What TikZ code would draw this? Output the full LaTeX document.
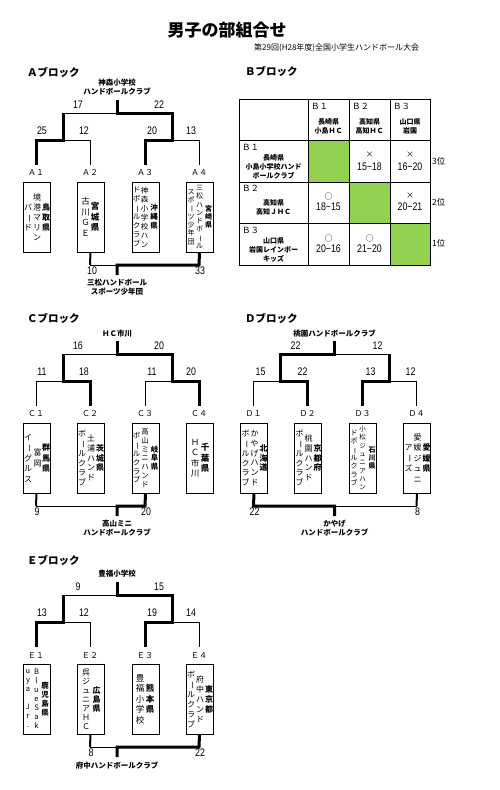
\documentclass[tikz,border=0pt]{standalone}
\usepackage{fontspec}
\setmainfont{Noto Sans CJK JP}
\newfontfamily\numfont[FakeStretch=0.8]{Liberation Sans}
\usetikzlibrary{calc}
\newcommand\fs[1]{\fontsize{#1}{#1}\selectfont}
\ExplSyntaxOn
\NewDocumentCommand\vstack{O{9pt}m}{
  \vbox{
    \baselineskip=#1\relax
    \lineskiplimit=-\maxdimen
    \lineskip=0pt
    \tl_map_inline:nn {#2}{
      \hbox_to_wd:nn {1.1em}{\hss \str_if_eq:nnTF{##1}{ー}{\rotatebox[origin=c]{-90}{ー}}{##1}\hss}
    }
  }
}
\ExplSyntaxOff
% box, dx, pitch, size, text
\newcommand\tcol[5]{\node[vcol,font=\fs{#4}] at ([xshift=#2]#1.center) {\vstack[#3]{#5}};}
\newcommand\tpcol[5]{\node[vcol,font=\fs{#4}\bfseries] at ([xshift=#2]#1.center) {\vstack[#3]{#5}};}
\definecolor{cellgreen}{HTML}{92D050}
\tikzset{
 lnthin/.style={line width=0.8pt},
 lnthick/.style={line width=3pt},
 lnmid/.style={line width=2pt},
 tbox/.style={draw, line width=0.8pt, minimum width=27, minimum height=70, inner sep=0},
 score/.style={font=\numfont\fs{11}, inner sep=0},
 tlab/.style={font=\fs{8}, inner sep=0},
 winner/.style={font=\fontsize{7.5}{9}\selectfont\bfseries, align=center, inner sep=0},
 btitle/.style={font=\fs{10.5}\bfseries, anchor=west, inner sep=0},
 vcol/.style={inner sep=0},
 cellsmall/.style={font=\fs{7}\bfseries, inner sep=0},
 cellid/.style={font=\fs{8.5}, anchor=west, inner sep=0},
 res/.style={font=\numfont\fs{11}, inner sep=0},
 resmark/.style={font=\fs{8}, inner sep=0},
 rank/.style={font=\fs{8.5}, anchor=west, inner sep=0},
 tgrid/.style={line width=0.9pt},
}
\begin{document}
\begin{tikzpicture}[x=1pt,y=-1pt]
\useasboundingbox (0,0) rectangle (500,790);

% ---------- title ----------
\node[font=\fs{17}\bfseries, inner sep=0] (title) at (227,30) {男子の部組合せ};
\node[font=\fs{8}, anchor=west, inner sep=0] (subtitle) at (254,48) {第29回(H28年度)全国小学生ハンドボール大会};

% ---------- A block ----------
\node[btitle] (Atitle) at (27,72) {Ａブロック};
\node[winner] (Awin) at (117,87.5) {神森小学校\\ハンドボールクラブ};
\draw[lnthin] (63,113) -- (117,113);
\draw[lnthick] (117,100) -- (117,113) -| (172,140) -- (145,140) -- (145,165);
\draw[lnthick] (63,113) -- (63,140) -- (36,140) -- (36,165);
\draw[lnthin] (63,140) -- (90,140) -- (90,165);
\draw[lnthin] (172,140) -- (199,140) -- (199,165);
\node[score] at (78,105) {17};
\node[score] at (159,105) {22};
\node[score] at (42,131) {25};
\node[score] at (84,131) {12};
\node[score] at (152,131) {20};
\node[score] at (191,131) {13};
\node[tlab] (A1) at (36,173) {Ａ１};
\node[tlab] (A2) at (90,173) {Ａ２};
\node[tlab] (A3) at (145,173) {Ａ３};
\node[tlab] (A4) at (199,173) {Ａ４};
\node[tbox] (A1b) at (36.5,217) {};
\node[tbox] (A2b) at (90.5,217) {};
\node[tbox] (A3b) at (145.5,217) {};
\node[tbox] (A4b) at (199.5,217) {};
\tpcol{A1b}{9.5}{10pt}{8}{鳥取県}
\tcol{A1b}{0.5}{10pt}{8}{境港マリン}
\tcol{A1b}{-8.5}{10pt}{8}{バード}
\tpcol{A2b}{4.5}{10.5pt}{8.5}{宮城県}
\tcol{A2b}{-5}{10.5pt}{8.5}{古川ＧＥ}
\tpcol{A3b}{8.5}{9pt}{7.5}{沖縄県}
\tcol{A3b}{-1}{9pt}{7.5}{神森小学校ハン}
\tcol{A3b}{-9}{9pt}{7.5}{ドボールクラブ}
\tpcol{A4b}{9}{8.3pt}{7}{宮崎県}
\tcol{A4b}{0}{8.3pt}{7}{三松ハンドボール}
\tcol{A4b}{-8.5}{8.3pt}{7}{スポーツ少年団}
\draw[lnmid] (A2b.south) -- (90,265);
\draw[lnthin] (90,265) -- (117,265);
\draw[lnthick] (A4b.south) -- (199,265) -- (117,265) -- (117,275);
\node[score] at (92,271) {10};
\node[score] at (200,271) {33};
\node[winner] (Abot) at (117,287.5) {三松ハンドボール\\スポーツ少年団};

% ---------- B block ----------
\node[btitle] (Btitle) at (245,71) {Ｂブロック};
\fill[cellgreen] (308,140) rectangle (349,182);
\fill[cellgreen] (349,182) rectangle (390,223);
\fill[cellgreen] (390,223) rectangle (430,265);
\draw[tgrid] (239,99) rectangle (430,265);
\draw[tgrid] (308,99) -- (308,265) (349,99) -- (349,265) (390,99) -- (390,265);
\draw[tgrid] (239,140) -- (430,140) (239,182) -- (430,182) (239,223) -- (430,223);
\node[cellid] at (311,106) {Ｂ１};
\node[cellsmall] at (328.5,122) {長崎県};
\node[cellsmall] at (328.5,131) {小島ＨＣ};
\node[cellid] at (352,106) {Ｂ２};
\node[cellsmall] at (369.5,122) {高知県};
\node[cellsmall] at (369.5,131) {高知ＨＣ};
\node[cellid] at (393,106) {Ｂ３};
\node[cellsmall] at (410,122) {山口県};
\node[cellsmall] at (410,131) {岩国};
\node[cellid] at (242,147) {Ｂ１};
\node[cellsmall] at (273.5,158) {長崎県};
\node[cellsmall] at (273.5,167) {小島小学校ハンド};
\node[cellsmall] at (273.5,176) {ボールクラブ};
\node[cellid] at (242,188) {Ｂ２};
\node[cellsmall] at (273.5,203) {高知県};
\node[cellsmall] at (273.5,212) {高知ＪＨＣ};
\node[cellid] at (242,230) {Ｂ３};
\node[cellsmall] at (273.5,241) {山口県};
\node[cellsmall] at (273.5,250) {岩国レインボー};
\node[cellsmall] at (273.5,259) {キッズ};
\node[resmark] at (369.5,155) {×};
\node[res] at (369.5,167) {15−18};
\node[resmark] at (410,155) {×};
\node[res] at (410,167) {16−20};
\node[resmark] at (328.5,196) {○};
\node[res] at (328.5,207) {18−15};
\node[resmark] at (410,196) {×};
\node[res] at (410,207) {20−21};
\node[resmark] at (328.5,238) {○};
\node[res] at (328.5,249) {20−16};
\node[resmark] at (369.5,238) {○};
\node[res] at (369.5,249) {21−20};
\node[rank] at (432,161) {3位};
\node[rank] at (432,202) {2位};
\node[rank] at (432,243) {1位};

% ---------- C block ----------
\node[btitle] (Ctitle) at (27,318) {Ｃブロック};
\begin{scope}[shift={(0,241)}]
\node[winner] (Cwin) at (117,93) {ＨＣ市川};
\draw[lnthin] (63,113) -- (117,113);
\draw[lnthick] (117,100) -- (117,113) -| (172,140) -- (199,140) -- (199,165);
\draw[lnthick] (63,113) -- (63,140) -- (90,140) -- (90,165);
\draw[lnthin] (63,140) -- (36,140) -- (36,165);
\draw[lnthin] (172,140) -- (145,140) -- (145,165);
\node[score] at (78,105) {16};
\node[score] at (159,105) {20};
\node[score] at (42,131) {11};
\node[score] at (84,131) {18};
\node[score] at (152,131) {11};
\node[score] at (191,131) {20};
\node[tlab] (C1) at (36,173) {Ｃ１};
\node[tlab] (C2) at (90,173) {Ｃ２};
\node[tlab] (C3) at (145,173) {Ｃ３};
\node[tlab] (C4) at (199,173) {Ｃ４};
\node[tbox] (C1b) at (36.5,217) {};
\node[tbox] (C2b) at (90.5,217) {};
\node[tbox] (C3b) at (145.5,217) {};
\node[tbox] (C4b) at (199.5,217) {};
\draw[lnmid] (C1b.south) -- (36,265);
\draw[lnthin] (36,265) -- (117,265);
\draw[lnthick] (C3b.south) -- (145,265) -- (117,265) -- (117,275);
\node[score] at (37,271) {9};
\node[score] at (146,271) {20};
\node[winner] (Cbot) at (117,287.5) {高山ミニ\\ハンドボールクラブ};
\end{scope}
\tpcol{C1b}{9.5}{10.5pt}{8}{群馬県}
\tcol{C1b}{1}{10.5pt}{8}{富岡}
\tcol{C1b}{-8.5}{10.5pt}{8}{イーグルス}
\tpcol{C2b}{9.5}{9.8pt}{8}{茨城県}
\tcol{C2b}{0.5}{9.8pt}{8}{土浦ハンド}
\tcol{C2b}{-8.5}{9.8pt}{8}{ボールクラブ}
\tpcol{C3b}{9}{8.8pt}{7.5}{岐阜県}
\tcol{C3b}{-0.5}{8.8pt}{7.5}{高山ミニハンド}
\tcol{C3b}{-9}{8.8pt}{7.5}{ボールクラブ}
\tpcol{C4b}{5.5}{10.5pt}{8.5}{千葉県}
\tcol{C4b}{-4.5}{10.5pt}{8.5}{ＨＣ市川}

% ---------- D block ----------
\node[btitle] (Dtitle) at (245,318) {Ｄブロック};
\begin{scope}[shift={(217.5,241)}]
\node[winner] (Dwin) at (117,93) {桃園ハンドボールクラブ};
\draw[lnthin] (117,113) -- (172,113);
\draw[lnthick] (117,100) -- (117,113) -| (63,140) -- (90,140) -- (90,165);
\draw[lnthick] (172,113) -- (172,140) -- (145,140) -- (145,165);
\draw[lnthin] (63,140) -- (36,140) -- (36,165);
\draw[lnthin] (172,140) -- (199,140) -- (199,165);
\node[score] at (78,105) {22};
\node[score] at (160,105) {12};
\node[score] at (43,131) {15};
\node[score] at (85,131) {22};
\node[score] at (153,131) {13};
\node[score] at (193,131) {12};
\node[tlab] (D1) at (36,173) {Ｄ１};
\node[tlab] (D2) at (90,173) {Ｄ２};
\node[tlab] (D3) at (145,173) {Ｄ３};
\node[tlab] (D4) at (199,173) {Ｄ４};
\node[tbox] (D1b) at (36.5,217) {};
\node[tbox] (D2b) at (90.5,217) {};
\node[tbox] (D3b) at (145.5,217) {};
\node[tbox] (D4b) at (199.5,217) {};
\draw[lnmid] (D4b.south) -- (199,265);
\draw[lnthin] (199,265) -- (117,265);
\draw[lnthick] (D1b.south) -- (36,265) -- (117,265) -- (117,275);
\node[score] at (37,271) {22};
\node[score] at (200,271) {8};
\node[winner] (Dbot) at (117,287.5) {かやげ\\ハンドボールクラブ};
\end{scope}
\tpcol{D1b}{9.5}{9.8pt}{8}{北海道}
\tcol{D1b}{0.5}{9.8pt}{8}{かやげハンド}
\tcol{D1b}{-8.5}{9.8pt}{8}{ボールクラブ}
\tpcol{D2b}{9.5}{9.8pt}{8}{京都府}
\tcol{D2b}{0.5}{9.8pt}{8}{桃園ハンド}
\tcol{D2b}{-8.5}{9.8pt}{8}{ボールクラブ}
\tpcol{D3b}{9}{8.3pt}{7}{石川県}
\tcol{D3b}{-0.5}{8.3pt}{6.5}{小松ジュニアハン}
\tcol{D3b}{-9}{8.3pt}{7}{ドボールクラブ}
\tpcol{D4b}{9.5}{10.5pt}{8}{愛媛県}
\tcol{D4b}{0.5}{10.5pt}{8}{愛媛ジュニ}
\tcol{D4b}{-8.5}{10.5pt}{8}{アーズ}

% ---------- E block ----------
\node[btitle] (Etitle) at (27,560) {Ｅブロック};
\begin{scope}[shift={(0,482)}]
\node[winner] (Ewin) at (117,92) {豊福小学校};
\draw[lnthin] (63,113) -- (117,113);
\draw[lnthick] (117,100) -- (117,113) -| (172,140) -- (145,140) -- (145,165);
\draw[lnthick] (63,113) -- (63,140) -- (36,140) -- (36,165);
\draw[lnthin] (63,140) -- (90,140) -- (90,165);
\draw[lnthin] (172,140) -- (199,140) -- (199,165);
\node[score] at (78,105) {9};
\node[score] at (159,105) {15};
\node[score] at (42,131) {13};
\node[score] at (84,131) {12};
\node[score] at (152,131) {19};
\node[score] at (191,131) {14};
\node[tlab] (E1) at (36,174) {Ｅ１};
\node[tlab] (E2) at (90,174) {Ｅ２};
\node[tlab] (E3) at (145,174) {Ｅ３};
\node[tlab] (E4) at (199,174) {Ｅ４};
\node[tbox] (E1b) at (36.5,217) {};
\node[tbox] (E2b) at (90.5,217) {};
\node[tbox] (E3b) at (145.5,217) {};
\node[tbox] (E4b) at (199.5,217) {};
\draw[lnmid] (E2b.south) -- (90,265);
\draw[lnthin] (90,265) -- (117,265);
\draw[lnthick] (E4b.south) -- (199,265) -- (117,265) -- (117,275);
\node[score] at (91,271) {8};
\node[score] at (200,271) {22};
\node[winner] (Ebot) at (117,284) {府中ハンドボールクラブ};
\end{scope}
\tpcol{E1b}{8.5}{9pt}{7.5}{鹿児島県}
\tcol{E1b}{0}{9pt}{7.5}{BlueSak}
\tcol{E1b}{-8.5}{9pt}{7.5}{uya~Jr.}
\tpcol{E2b}{6}{9pt}{8}{広島県}
\tcol{E2b}{-4.5}{9pt}{8}{呉ジュニアＨＣ}
\tpcol{E3b}{4.5}{10.5pt}{8.5}{熊本県}
\tcol{E3b}{-5.5}{10.5pt}{8.5}{豊福小学校}
\tpcol{E4b}{9.5}{10pt}{8}{東京都}
\tcol{E4b}{0.5}{10pt}{8}{府中ハンド}
\tcol{E4b}{-8.5}{10pt}{8}{ボールクラブ}
\end{tikzpicture}
\end{document}
